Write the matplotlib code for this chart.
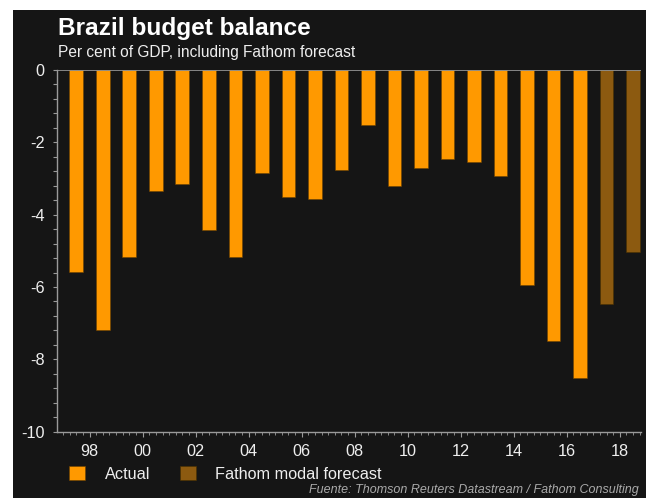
import numpy as np
import matplotlib
matplotlib.use("Agg")
import matplotlib.pyplot as plt
from matplotlib.patches import Rectangle
from matplotlib.ticker import MultipleLocator

plt.rcParams['font.family'] = ['Liberation Sans', 'DejaVu Sans']

# Budget balance, per cent of GDP
actual_years = list(range(1997, 2017))
actual_values = [-5.58, -7.19, -5.18, -3.34, -3.16, -4.42, -5.18, -2.86, -3.52, -3.56,
                 -2.76, -1.52, -3.21, -2.70, -2.47, -2.53, -2.93, -5.95, -7.48, -8.51]
forecast_years = [2017, 2018]
forecast_values = [-6.48, -5.02]
tick_years = list(range(1998, 2019, 2))
tick_labels = ['98', '00', '02', '04', '06', '08', '10', '12', '14', '16', '18']

BG = '#151515'
ORANGE = '#ff9900'
BROWN = '#8c5a10'
GREY = '#9a9a9a'
TEXT = '#eeeeee'

W, H = 646, 498
fig = plt.figure(figsize=(W / 100, H / 100), dpi=100, facecolor='white')
# dark panel, leaving a white strip on the left and top
panel = Rectangle((13 / W, 0), 1 - 13 / W, 1 - 10 / H,
                  transform=fig.transFigure, facecolor=BG,
                  edgecolor='none', zorder=-10)
fig.add_artist(panel)

ax = fig.add_axes([57 / W, 1 - 431.7 / H, 584 / W, (431.7 - 70) / H])
ax.set_zorder(1)
ax.set_facecolor(BG)

bars_a = ax.bar(np.array(actual_years) + 0.5, actual_values, width=0.52,
                color=ORANGE, edgecolor='#6b4000', linewidth=0.4, zorder=2)
bars_f = ax.bar(np.array(forecast_years) + 0.5, forecast_values, width=0.52,
                color=BROWN, edgecolor='#4a3000', linewidth=0.4, zorder=2)

ax.axhline(0, color=GREY, linewidth=1.2, zorder=3)
ax.set_xlim(1996.77, 2018.8)
ax.set_ylim(-10, 0)

for s in ['top', 'right']:
    ax.spines[s].set_visible(False)
for s in ['left', 'bottom']:
    ax.spines[s].set_color(GREY)
    ax.spines[s].set_linewidth(1.0)

ax.set_yticks([0, -2, -4, -6, -8, -10])
ax.set_yticklabels(['0', '-2', '-4', '-6', '-8', '-10'])
ax.yaxis.set_minor_locator(MultipleLocator(0.4))
ax.set_xticks(tick_years)
ax.set_xticklabels(tick_labels)
ax.xaxis.set_minor_locator(MultipleLocator(0.25))

ax.tick_params(axis='y', which='both', direction='out', length=3, width=0.8,
               color=GREY, labelcolor=TEXT, labelsize=11.7, pad=6)
ax.tick_params(axis='x', which='major', direction='out', length=3.5, width=0.8,
               color=GREY, labelcolor=TEXT, labelsize=11.7, pad=5)
ax.tick_params(axis='x', which='minor', direction='out', length=1.8, width=0.6,
               color=GREY)

fig.text(58 / W, 1 - 35 / H, 'Brazil budget balance', color='white',
         fontsize=17.6, fontweight='bold', va='baseline', ha='left')
fig.text(58 / W, 1 - 56.7 / H, 'Per cent of GDP, including Fathom forecast',
         color=TEXT, fontsize=11.2, va='baseline', ha='left')

fig.legend([bars_a, bars_f], ['Actual', 'Fathom modal forecast'],
           loc='center left', bbox_to_anchor=(69 / W, 1 - 474 / H), ncol=2,
           frameon=False, fontsize=11.7, labelcolor=TEXT,
           handlelength=1.0, handleheight=0.9, handletextpad=1.2,
           columnspacing=1.8, borderaxespad=0, borderpad=0)

fig.text(309 / W, 1 - 484 / H,
         'Fuente: Thomson Reuters Datastream / Fathom Consulting',
         color='#aaaaaa', fontsize=9.0, style='italic', va='top', ha='left')

fig.savefig('out.png', dpi=100, facecolor='white')
